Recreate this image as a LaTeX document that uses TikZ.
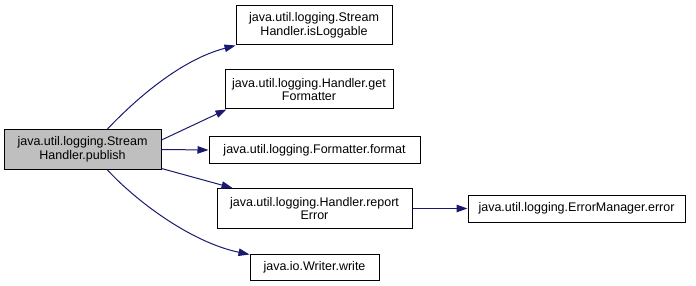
\documentclass[tikz,border=0pt]{standalone}
\usepackage{fontspec}
\setmainfont{Liberation Sans}
\usetikzlibrary{arrows.meta}
\definecolor{kante}{RGB}{25,25,112}
\definecolor{grau}{RGB}{191,191,191}
\begin{document}
\begin{tikzpicture}[x=1pt,y=-1pt,
	box/.style={draw=black,line width=1pt,fill=white,inner sep=0pt,
		align=center,font=\fontsize{12.5}{13.5}\selectfont},
	pfeil/.style={draw=kante,line width=1pt,
		-{Triangle[length=11pt,width=7.5pt]}}]
\useasboundingbox (0,0) rectangle (696,286);
%Aufrufer
	\node (publish) at (82.5,149.5)
		[box,fill=grau,minimum width=157pt,minimum height=39pt]
		{java.util.logging.Stream\\Handler.publish};
%Aufgerufene Methoden
	\node (isLoggable) at (314,25.5)
		[box,minimum width=156pt,minimum height=39pt]
		{java.util.logging.Stream\\Handler.isLoggable};
	\node (getFormatter) at (309,89.5)
		[box,minimum width=168pt,minimum height=39pt]
		{java.util.logging.Handler.get\\Formatter};
	\node (format) at (314.5,150)
		[box,minimum width=211pt,minimum height=26pt]
		{java.util.logging.Formatter.format};
	\node (reportError) at (314.5,208.5)
		[box,minimum width=195pt,minimum height=40pt]
		{java.util.logging.Handler.report\\Error};
	\node (write) at (314.5,267)
		[box,minimum width=129pt,minimum height=26pt]
		{java.io.Writer.write};
	\node (error) at (576.5,208.5)
		[box,minimum width=217pt,minimum height=27pt]
		{java.util.logging.ErrorManager.error};
%Pfeile
	\draw[pfeil] ([xshift=24.5pt]publish.north)
		.. controls (135,100) and (180,60) .. (isLoggable.south west);
	\draw[pfeil] ([yshift=9.5pt]publish.east)
		-- ([xshift=2pt]getFormatter.south west);
	\draw[pfeil] (publish.east) -- (format.west);
	\draw[pfeil] ([yshift=1pt]publish.south east)
		-- ([xshift=16pt]reportError.north west);
	\draw[pfeil] ([xshift=24.5pt]publish.south)
		.. controls (135,200) and (190,242) .. ([yshift=-1pt]write.north west);
	\draw[pfeil] (reportError.east) -- (error.west);
\end{tikzpicture}
\end{document}
